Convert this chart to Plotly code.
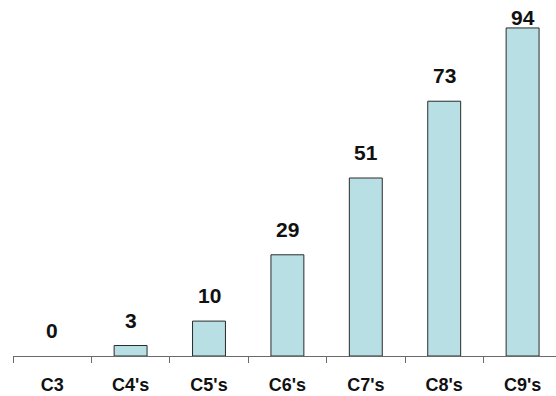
import plotly.graph_objects as go

categories = ["C3", "C4's", "C5's", "C6's", "C7's", "C8's", "C9's"]
values = [0, 3, 10, 29, 51, 73, 94]

bar_fill = "#b8e0e4"
bar_line = "#2a2a2a"
axis_color = "#6a6a6a"
font_family = "Liberation Sans, Arial, sans-serif"

y_max = 100
plot_top, plot_bottom = 7, 40
fig_h = 396
px_per_unit = (fig_h - plot_top - plot_bottom) / y_max

fig = go.Figure()
fig.add_trace(go.Bar(
    x=categories,
    y=values,
    width=0.42,
    marker=dict(color=bar_fill,
                line=dict(color=bar_line, width=[1 if v > 0 else 0 for v in values])),
    hoverinfo="skip",
))

annotations = []
for c, v in zip(categories, values):
    space = (y_max - v) * px_per_unit + plot_top
    shift = min(12, space - 31)
    annotations.append(dict(
        x=c, y=v, xref="x", yref="y", text=str(v), showarrow=False,
        yanchor="bottom", yshift=shift,
        font=dict(family=font_family, size=21, color="#111", weight="bold"),
    ))

fig.update_layout(
    width=556, height=396,
    margin=dict(l=13, r=0, t=plot_top, b=plot_bottom),
    paper_bgcolor="white", plot_bgcolor="white",
    showlegend=False,
    annotations=annotations,
    font=dict(family=font_family),
)

fig.update_xaxes(
    type="category",
    range=[-0.5, 6.426],
    showline=True, linecolor=axis_color, linewidth=1,
    showgrid=False, zeroline=False,
    ticks="outside", tickson="boundaries", ticklen=6, tickcolor=axis_color, tickwidth=1,
    tickfont=dict(size=18, color="#111", weight="bold", family=font_family),
    ticklabelstandoff=12,
)
fig.update_yaxes(range=[0, y_max], visible=False)

fig.write_html("out.html")
